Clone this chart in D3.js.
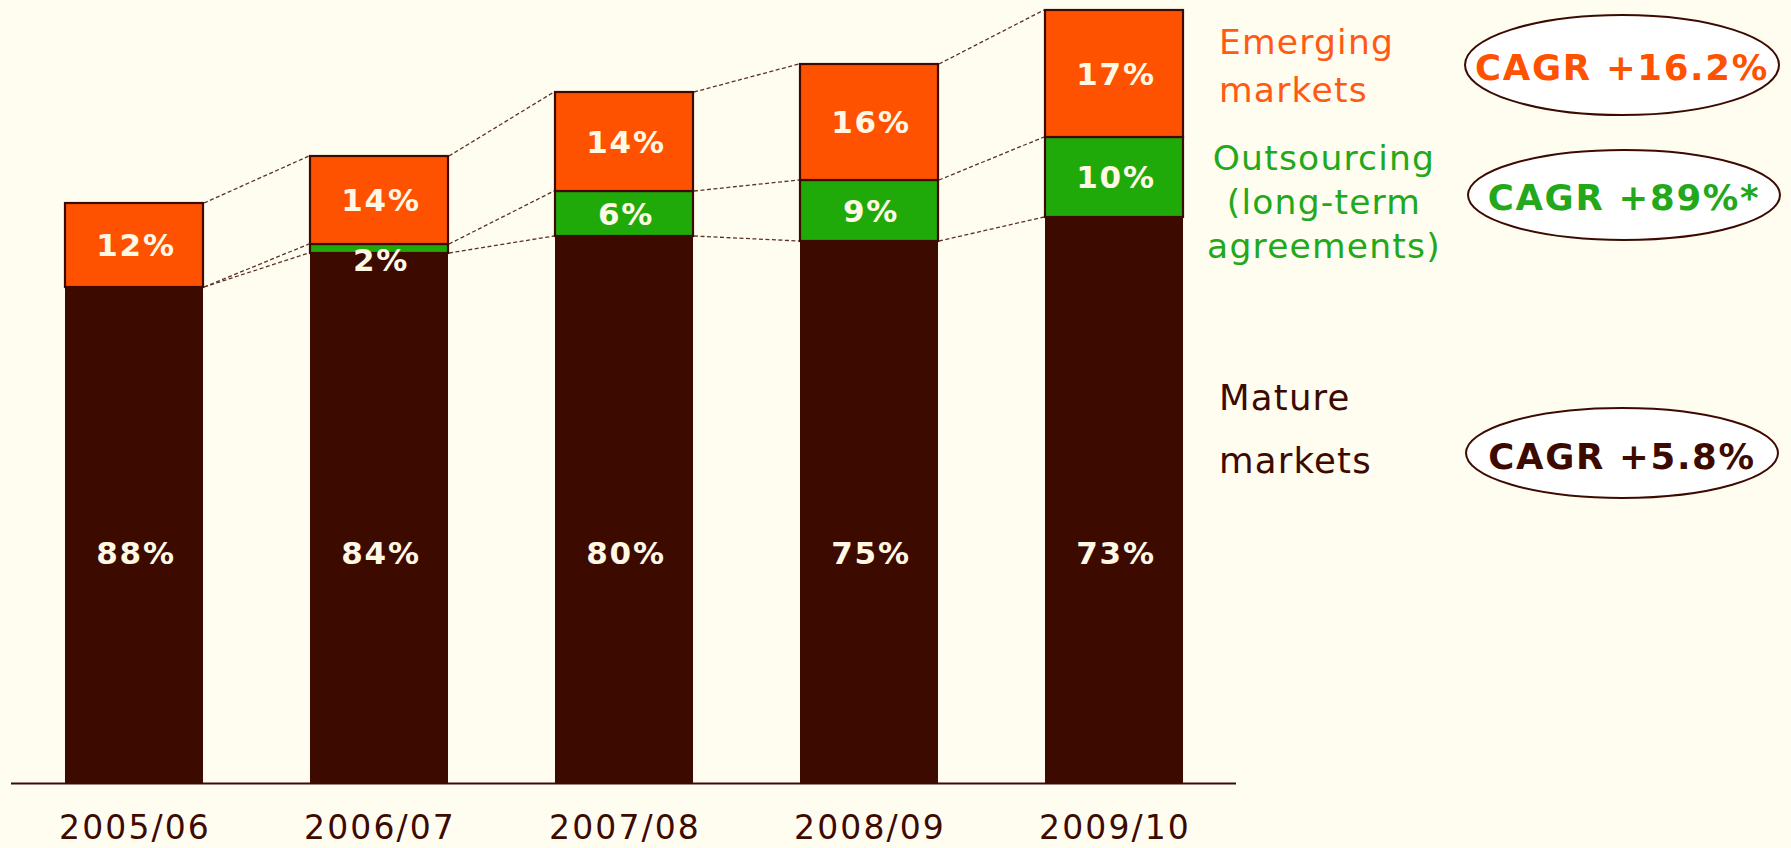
<!DOCTYPE html>
<html><head><meta charset="utf-8">
<script src="https://cdn.jsdelivr.net/npm/d3@7"></script>
<style>html,body{margin:0;padding:0;background:#FFFCF0;} svg{display:block}</style>
</head><body>
<svg id="chart" width="1791" height="848"></svg>
<script>
// ---- data (bar heights, arbitrary units) ----
const categories = ["2005/06","2006/07","2007/08","2008/09","2009/10"];
const matureValues = [496,530,547,542,566];
const outsourcingValues = [0,9,45,61,80];
const emergingValues = [84,88,99,116,127];
const matureLabels = ["88%","84%","80%","75%","73%"];
const outsourcingLabels = ["","2%","6%","9%","10%"];
const emergingLabels = ["12%","14%","14%","16%","17%"];
const legendMature = ["Mature","markets"];
const legendOutsourcing = ["Outsourcing","(long-term","agreements)"];
const legendEmerging = ["Emerging","markets"];
const cagrLabels = ["CAGR +5.8%","CAGR +89%*","CAGR +16.2%"];

// ---- styles ----
const C = {bg:"#FFFCF0", mature:"#3D0A00", out:"#1FAA0A", emg:"#FF5200", txt:"#FFF8E4",
           outTxt:"#22A81A", emgTxt:"#FF5A14", line:"#5A3226"};
const keys = ["mature","outsourcing","emerging"];
const fills = {mature:C.mature, outsourcing:C.out, emerging:C.emg};
const labels = {mature:matureLabels, outsourcing:outsourcingLabels, emerging:emergingLabels};

const table = categories.map((c,i)=>({cat:c, mature:matureValues[i], outsourcing:outsourcingValues[i], emerging:emergingValues[i]}));
const stacked = d3.stack().keys(keys)(table);

const svg = d3.select("#chart");
svg.append("rect").attr("width",1791).attr("height",848).attr("fill",C.bg);

const x = d3.scaleBand().domain(categories).range([11,1237]).paddingInner(0.4367).paddingOuter(0.2204);
const maxTotal = d3.max(table, d=>d.mature+d.outsourcing+d.emerging);
const y = d3.scaleLinear().domain([0,maxTotal]).range([783,10]);
const bw = x.bandwidth();

// bars
stacked.forEach(layer=>{
  const k = layer.key;
  svg.append("g").selectAll("rect").data(layer.filter(d=>d[1]-d[0]>0)).join("rect")
    .attr("x",d=>x(d.data.cat)).attr("y",d=>y(d[1]))
    .attr("width",bw).attr("height",d=>y(d[0])-y(d[1]))
    .attr("fill",fills[k])
    .attr("stroke", k==="mature" ? "none" : "#3C0A00")
    .attr("stroke-width", 2.2);
});

// dashed connectors
stacked.forEach(layer=>{
  for(let i=0;i<layer.length-1;i++){
    const a=layer[i], b=layer[i+1];
    svg.append("line")
      .attr("x1",x(a.data.cat)+bw+1).attr("y1",y(a[1]))
      .attr("x2",x(b.data.cat)-1).attr("y2",y(b[1]))
      .attr("stroke",C.line).attr("stroke-width",1.3).attr("stroke-dasharray","4,2.5");
  }
});

// baseline
svg.append("line").attr("x1",11).attr("x2",1236).attr("y1",783.5).attr("y2",783.5)
  .attr("stroke",C.mature).attr("stroke-width",2.2);

// value labels
const matureLabelLevel = 230;
stacked.forEach(layer=>{
  const k = layer.key;
  layer.forEach((d,i)=>{
    const t = labels[k][i]; if(!t) return;
    let cy;
    if(k==="mature") cy = y(matureLabelLevel);
    else { const top=y(d[1]), bot=y(d[0]); cy = Math.max((top+bot)/2, top+15.5); }
    svg.append("text").attr("x",x(d.data.cat)+bw/2+2).attr("y",cy+11)
      .attr("text-anchor","middle").attr("fill",C.txt)
      .attr("font-family","DejaVu Sans").attr("font-weight","bold")
      .attr("font-size",31).attr("letter-spacing",1.8).text(t);
  });
});

// category axis labels
svg.append("g").selectAll("text").data(categories).join("text")
  .attr("x",d=>x(d)+bw/2+1).attr("y",839).attr("text-anchor","middle")
  .attr("fill",C.mature).attr("font-family","DejaVu Sans").attr("font-size",33)
  .attr("letter-spacing",2.1).text(d=>d);

// legend texts
const lg = svg.append("g").attr("font-family","DejaVu Sans").attr("font-size",34.5).attr("letter-spacing",1.2);
legendEmerging.forEach((t,i)=>lg.append("text").attr("x",1219).attr("y",54+48*i).attr("fill",C.emgTxt).text(t));
legendOutsourcing.forEach((t,i)=>lg.append("text").attr("x",1324).attr("y",170+44*i).attr("text-anchor","middle").attr("fill",C.outTxt).text(t));
legendMature.forEach((t,i)=>lg.append("text").attr("x",1219).attr("y",410+63*i).attr("fill",C.mature).attr("font-size",35.5).text(t));

// CAGR ellipses
const cagr = [
  {t:cagrLabels[2], cx:1622, cy:65, rx:157, ry:50, col:C.emg, by:80},
  {t:cagrLabels[1], cx:1624, cy:195, rx:156, ry:45, col:C.outTxt, by:210},
  {t:cagrLabels[0], cx:1622, cy:453, rx:156, ry:45, col:C.mature, by:469}
];
cagr.forEach(c=>{
  svg.append("ellipse").attr("cx",c.cx).attr("cy",c.cy).attr("rx",c.rx).attr("ry",c.ry)
    .attr("fill","#FFFFFF").attr("stroke","#3C0A00").attr("stroke-width",2);
  svg.append("text").attr("x",c.cx).attr("y",c.by).attr("text-anchor","middle")
    .attr("fill",c.col).attr("font-family","DejaVu Sans").attr("font-weight","bold")
    .attr("font-size",35.5).attr("letter-spacing",1.7).text(c.t);
});
</script>
</body></html>
